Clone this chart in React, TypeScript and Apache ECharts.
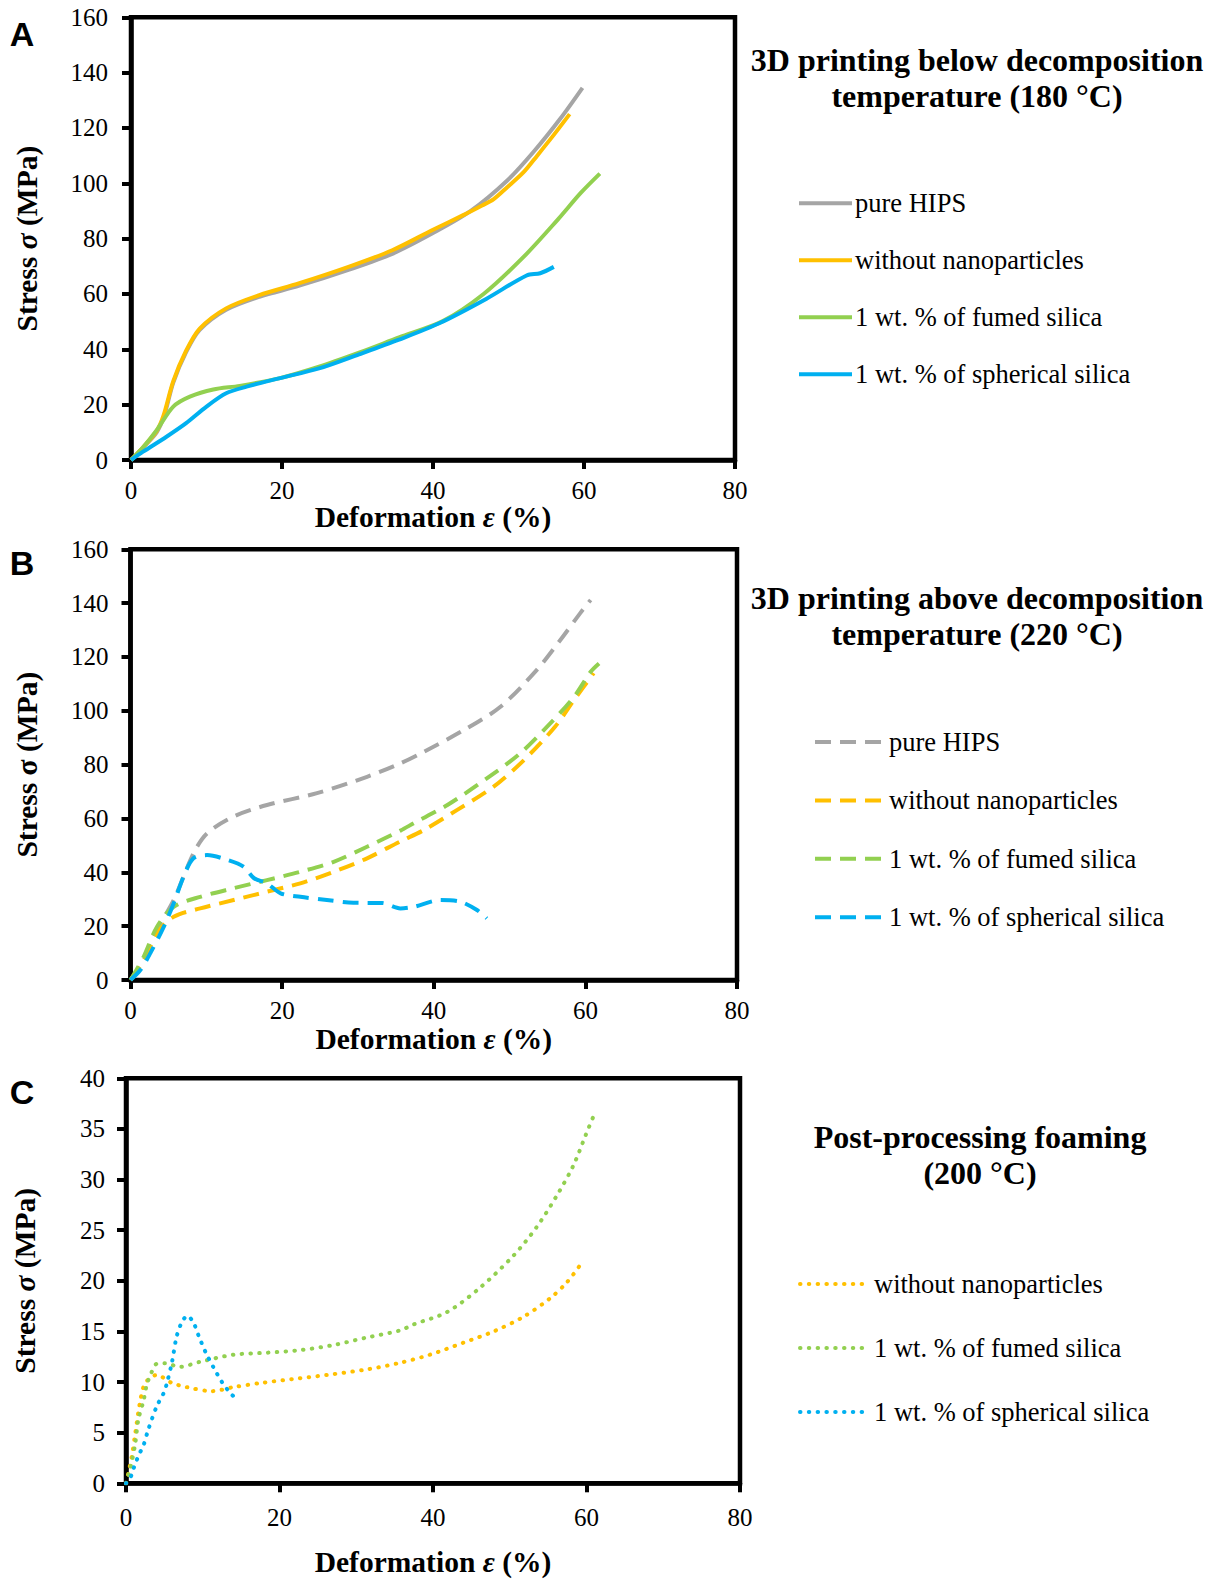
import React, { useEffect, useRef } from "react";
import * as echarts from "echarts";

const SERIF = '"Liberation Serif", "Times New Roman", Times, serif';
const SANS = '"Liberation Sans", Arial, sans-serif';

const GRAY = "#A5A5A5";
const ORANGE = "#FFC000";
const GREEN = "#92D050";
const BLUE = "#00B0F0";

const NAME_PURE = "pure HIPS";
const NAME_NONE = "without nanoparticles";
const NAME_FUMED = "1 wt. % of fumed silica";
const NAME_SPHERICAL = "1 wt. % of spherical silica";

// Deformation axis (%), shared by all panels
const X_MIN = 0;
const X_MAX = 80;
const X_STEP = 20;

// Stress axes (MPa)
const Y_MAX_PRINTED = 160;
const Y_STEP_PRINTED = 20;
const Y_MAX_FOAMED = 40;
const Y_STEP_FOAMED = 5;

// A: printed below decomposition temperature (180 °C), [ε %, σ MPa]
const printed180Pure: number[][] = [
  [0, 0], [1.6, 4.5], [3.4, 10], [4.4, 16], [5.6, 28], [7.3, 39], [9.1, 47],
  [12.6, 54.3], [17, 59], [22.3, 63], [28.9, 68.8], [34.6, 74.5], [40, 82],
  [45, 90], [49.8, 100.9], [53.3, 111.3], [56.9, 123.5], [59.8, 134.5],
];
const printed180None: number[][] = [
  [0, 0], [1.6, 4.6], [3.4, 10.5], [4.3, 16], [5.6, 28.5], [7.3, 39.5],
  [9.1, 47.5], [12.6, 54.8], [17, 59.6], [22.3, 63.9], [28.9, 69.9],
  [34.6, 75.8], [40, 83.2], [44, 88.5], [46.5, 92], [48, 94.2], [49.8, 98.5],
  [52, 104], [53.8, 110], [56, 117.5], [58.1, 125],
];
const printed180Fumed: number[][] = [
  [0, 0], [1.6, 4.6], [3.4, 10.8], [5.6, 19.3], [7.8, 22.9], [10.9, 25.5],
  [14.4, 26.8], [19.6, 29.5], [24.9, 33.7], [30.2, 38.8], [35.5, 44.3],
  [41.3, 50.2], [46.7, 60], [52, 73.4], [56.5, 86.8], [59.6, 96.6], [62.1, 103.5],
];
const printed180Spherical: number[][] = [
  [0, 0], [1.6, 3], [4.7, 8.4], [7.3, 13.3], [10, 19.3], [12.6, 24.1],
  [15.3, 26.5], [19.6, 29.5], [24.9, 33.1], [30.2, 38.2], [35.5, 43.5],
  [40.9, 49.5], [47.1, 58.3], [52.4, 66.7], [54.2, 67.5], [56, 69.8],
];

// B: printed above decomposition temperature (220 °C)
const printed220Pure: number[][] = [
  [0, 0], [1.7, 7], [3.5, 18.6], [5.7, 29.7], [8.3, 47], [10.1, 54.5],
  [13.6, 60.7], [18, 65], [24.6, 69.4], [31.2, 75.5], [35.6, 80.5],
  [38.7, 84.8], [44, 92.9], [48.8, 101.5], [53.6, 115.2], [56.7, 126.3],
  [59.3, 136.2], [60.7, 141.2],
];
const printed220None: number[][] = [
  [0, 0], [1.7, 7], [3.5, 17.5], [5.7, 23.5], [9.2, 26.6], [13.6, 29.7],
  [18, 32.8], [22.4, 35.9], [26.8, 40.2], [31.2, 45.2], [35.6, 51.5],
  [38.7, 55.7], [43.1, 63.2], [47.9, 71.8], [51.9, 81.7], [56, 94.1],
  [58.5, 104], [61.1, 114],
];
const printed220Fumed: number[][] = [
  [0, 0], [1.75, 8.7], [3.5, 19.8], [5.7, 27.2], [9.2, 30.9], [13.6, 34.1],
  [18, 37.1], [22.4, 40.2], [26.8, 43.9], [31.2, 49.5], [35.6, 55.5],
  [37.4, 58.3], [41.8, 65], [47, 74.9], [51.4, 84.2], [55.4, 95.4],
  [58.5, 105.2], [60.7, 114.5], [61.8, 117.6],
];
const printed220Spherical: number[][] = [
  [0, 0], [1.3, 3.7], [2.6, 9.9], [4.4, 19.8], [5.7, 28.5], [7, 38.4],
  [8.3, 45.2], [10.1, 46.4], [12.8, 44.6], [14.9, 42.1], [16.3, 37.8],
  [18, 35.9], [19.8, 32.2], [22.4, 30.9], [25.9, 29.7], [29.4, 28.7],
  [33.2, 28.6], [35.6, 26.6], [37.4, 27.2], [40.9, 29.7], [43.5, 29.1],
  [45.7, 26], [47, 22.9],
];

// C: post-processing foaming (200 °C)
const foamedNone: number[][] = [
  [0, 0], [0.3, 1], [0.74, 2.6], [1.2, 4.9], [1.8, 7.9], [2.5, 9.9], [4, 10.7],
  [6, 9.9], [7.9, 9.5], [11.2, 9.1], [14, 9.5], [17.5, 9.9], [21.8, 10.3],
  [26.2, 10.7], [31.4, 11.25], [35.7, 11.9], [39.6, 12.7], [44, 13.9],
  [47.9, 15], [51.8, 16.45], [55.3, 18.3], [57.5, 19.9], [59.6, 22],
];
const foamedFumed: number[][] = [
  [0, 0], [0.6, 1.6], [1.2, 3.9], [1.6, 6.25], [2.3, 8.2], [2.7, 9.7],
  [3.35, 11], [4, 11.8], [5.1, 11.85], [7, 11.5], [9.65, 12], [14, 12.7],
  [18.4, 12.9], [22.7, 13.15], [27, 13.65], [31.4, 14.4], [35.7, 15.1],
  [37.5, 15.7], [41.8, 16.9], [46.1, 19.3], [50.5, 22.5], [53.5, 25.3],
  [56.2, 28.5], [58.3, 31.4], [59.9, 34.4], [61.1, 36.6],
];
const foamedSpherical: number[][] = [
  [0, 0], [0.65, 0.7], [1, 1.5], [1.4, 2.3], [1.8, 3], [2.26, 3.7], [2.9, 5.3],
  [4, 7.6], [4.9, 8.9], [5.3, 9.8], [6, 12], [6.6, 14.5], [7.3, 15.95],
  [8, 16.55], [8.8, 15.85], [9.5, 14.5], [10.4, 12.9], [11.4, 11.45],
  [12.5, 10], [13.6, 8.9], [14.3, 8.4],
];

const SOLID = "solid";
const DASHED = [16, 9];
const DOTTED = [0.5, 8.3];

type Curve = { name: string; color: string; data: number[][] };

type Panel = {
  letter: string;
  title: string;
  curves: Curve[];
  dash: any;
  cap: "butt" | "round";
  yMax: number;
  yStep: number;
  stressName: string;
  grid: { left: number; top: number; right: number; bottom: number };
  xLabelMargin: number;
  xNameGap: number;
  yLabelMargin: number;
  yNameGap: number;
  letterPos: [number, number];
  titlePos: [number, number];
  legend: { x1: number; x2: number; textX: number; y0: number; gap: number };
};

const panels: Panel[] = [
  {
    letter: "A",
    title: "3D printing below decomposition\ntemperature (180 °C)",
    curves: [
      { name: NAME_PURE, color: GRAY, data: printed180Pure },
      { name: NAME_NONE, color: ORANGE, data: printed180None },
      { name: NAME_FUMED, color: GREEN, data: printed180Fumed },
      { name: NAME_SPHERICAL, color: BLUE, data: printed180Spherical },
    ],
    dash: SOLID,
    cap: "butt",
    yMax: Y_MAX_PRINTED,
    yStep: Y_STEP_PRINTED,
    stressName: "Stress {i|σ} (MPa)",
    grid: { left: 131, top: 17.3, right: 735, bottom: 460 },
    xLabelMargin: 18,
    xNameGap: 42,
    yLabelMargin: 23,
    yNameGap: 89,
    letterPos: [22, 34],
    titlePos: [977, 78],
    legend: { x1: 799, x2: 852, textX: 855, y0: 203.3, gap: 57 },
  },
  {
    letter: "B",
    title: "3D printing above decomposition\ntemperature (220 °C)",
    curves: [
      { name: NAME_PURE, color: GRAY, data: printed220Pure },
      { name: NAME_NONE, color: ORANGE, data: printed220None },
      { name: NAME_FUMED, color: GREEN, data: printed220Fumed },
      { name: NAME_SPHERICAL, color: BLUE, data: printed220Spherical },
    ],
    dash: DASHED,
    cap: "butt",
    yMax: Y_MAX_PRINTED,
    yStep: Y_STEP_PRINTED,
    stressName: "Stress σ (MPa)",
    grid: { left: 130.5, top: 549.3, right: 737, bottom: 980 },
    xLabelMargin: 18,
    xNameGap: 44,
    yLabelMargin: 22,
    yNameGap: 89,
    letterPos: [22, 563],
    titlePos: [977, 616],
    legend: { x1: 815, x2: 886, textX: 889, y0: 742, gap: 58.4 },
  },
  {
    letter: "C",
    title: "Post-processing foaming\n(200 °C)",
    curves: [
      { name: NAME_NONE, color: ORANGE, data: foamedNone },
      { name: NAME_FUMED, color: GREEN, data: foamedFumed },
      { name: NAME_SPHERICAL, color: BLUE, data: foamedSpherical },
    ],
    dash: DOTTED,
    cap: "round",
    yMax: Y_MAX_FOAMED,
    yStep: Y_STEP_FOAMED,
    stressName: "Stress {i|σ} (MPa)",
    grid: { left: 126, top: 1078.3, right: 740, bottom: 1483.3 },
    xLabelMargin: 22,
    xNameGap: 64,
    yLabelMargin: 21,
    yNameGap: 86,
    letterPos: [22, 1092],
    titlePos: [980, 1155],
    legend: { x1: 800, x2: 869, textX: 874, y0: 1284, gap: 64 },
  },
];

const AXIS_WIDTH = 4.5;
const LINE_WIDTH = 4;
const NAME_SIZE = 29.5;
const TICK_SIZE = 25;

function buildOption() {
  const grid: any[] = [];
  const xAxis: any[] = [];
  const yAxis: any[] = [];
  const series: any[] = [];
  const graphic: any[] = [];

  const nameStyle = {
    fontFamily: SERIF,
    fontSize: NAME_SIZE,
    fontWeight: "bold",
    color: "#000",
    rich: {
      i: { fontFamily: SERIF, fontSize: NAME_SIZE, fontWeight: "bold", fontStyle: "italic", color: "#000" },
    },
  };
  // tick values go through a rich style so the serif face is always used
  const tickLabel = (margin: number) => ({
    color: "#000",
    fontFamily: SERIF,
    fontSize: TICK_SIZE,
    margin,
    formatter: (v: number) => `{t|${v}}`,
    rich: { t: { fontFamily: SERIF, fontSize: TICK_SIZE, color: "#000" } },
  });

  panels.forEach((p, idx) => {
    grid.push({
      left: p.grid.left,
      top: p.grid.top,
      width: p.grid.right - p.grid.left,
      height: p.grid.bottom - p.grid.top,
      show: true,
      borderColor: "#000",
      borderWidth: AXIS_WIDTH,
      backgroundColor: "transparent",
    });
    xAxis.push({
      type: "value",
      gridIndex: idx,
      min: X_MIN,
      max: X_MAX,
      interval: X_STEP,
      axisLine: { show: true, onZero: false, lineStyle: { color: "#000", width: AXIS_WIDTH } },
      axisTick: { show: true, length: 9, lineStyle: { color: "#000", width: 4 } },
      splitLine: { show: false },
      axisLabel: tickLabel(p.xLabelMargin),
      name: "Deformation {i|ε} (%)",
      nameLocation: "middle",
      nameGap: p.xNameGap,
      nameMoveOverlap: false,
      nameTextStyle: nameStyle,
    });
    yAxis.push({
      type: "value",
      gridIndex: idx,
      min: 0,
      max: p.yMax,
      interval: p.yStep,
      axisLine: { show: true, onZero: false, lineStyle: { color: "#000", width: AXIS_WIDTH } },
      axisTick: { show: true, length: 9, lineStyle: { color: "#000", width: 4 } },
      splitLine: { show: false },
      axisLabel: tickLabel(p.yLabelMargin),
      name: p.stressName,
      nameLocation: "middle",
      nameGap: p.yNameGap,
      nameMoveOverlap: false,
      nameTextStyle: nameStyle,
    });

    p.curves.forEach((c) => {
      series.push({
        type: "line",
        name: c.name,
        xAxisIndex: idx,
        yAxisIndex: idx,
        data: c.data,
        showSymbol: false,
        symbol: "none",
        smooth: 0.3,
        lineStyle: { color: c.color, width: LINE_WIDTH, type: p.dash, cap: p.cap, join: "round" },
        emphasis: { disabled: true },
        silent: true,
      });
    });

    // panel letter
    graphic.push({
      type: "text",
      x: p.letterPos[0],
      y: p.letterPos[1],
      style: {
        text: p.letter,
        fill: "#000",
        fontFamily: SANS,
        fontWeight: "bold",
        fontSize: 34,
        textAlign: "center",
        textVerticalAlign: "middle",
      },
    });
    // panel title
    graphic.push({
      type: "text",
      x: p.titlePos[0],
      y: p.titlePos[1],
      style: {
        text: p.title,
        fill: "#000",
        fontFamily: SERIF,
        fontWeight: "bold",
        fontSize: 32,
        lineHeight: 36.5,
        textAlign: "center",
        textVerticalAlign: "middle",
      },
    });
    // legend
    p.curves.forEach((c, k) => {
      const y = p.legend.y0 + k * p.legend.gap;
      graphic.push({
        type: "line",
        shape: { x1: p.legend.x1, y1: y, x2: p.legend.x2, y2: y },
        style: {
          stroke: c.color,
          lineWidth: LINE_WIDTH,
          lineDash: p.dash === SOLID ? null : p.dash,
          lineCap: p.cap,
        },
      });
      graphic.push({
        type: "text",
        x: p.legend.textX,
        y,
        style: {
          text: c.name,
          fill: "#000",
          fontFamily: SERIF,
          fontSize: 26.5,
          textAlign: "left",
          textVerticalAlign: "middle",
        },
      });
    });
  });

  return {
    animation: false,
    backgroundColor: "#fff",
    textStyle: { fontFamily: SERIF, color: "#000" },
    grid,
    xAxis,
    yAxis,
    series,
    graphic,
  };
}

export default function App() {
  const ref = useRef<HTMLDivElement>(null);
  useEffect(() => {
    if (!ref.current) return;
    const chart = echarts.init(ref.current, undefined, { renderer: "svg" });
    chart.setOption(buildOption());
    return () => chart.dispose();
  }, []);
  return (
    <div
      ref={ref}
      style={{ position: "absolute", left: 0, top: 0, width: 1215, height: 1579, background: "#fff" }}
    />
  );
}
